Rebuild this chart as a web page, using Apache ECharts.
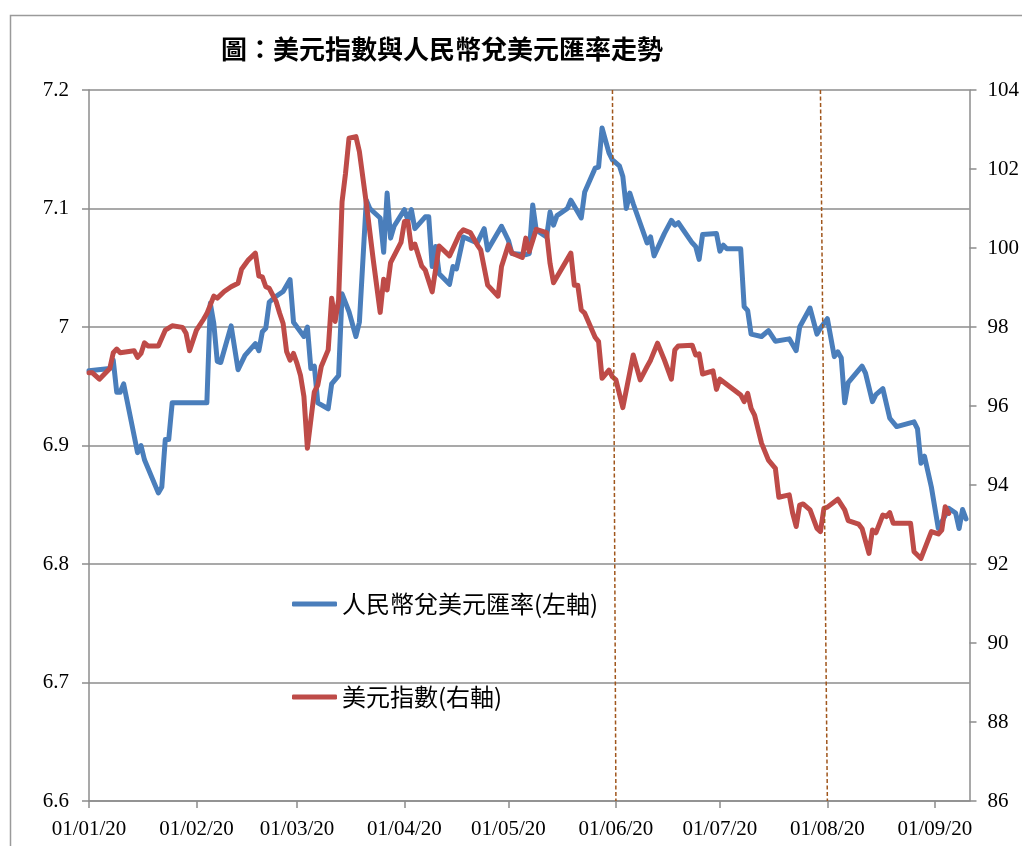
<!DOCTYPE html>
<html>
<head>
<meta charset="utf-8">
<script src="https://cdn.jsdelivr.net/npm/echarts@6/dist/echarts.min.js"></script>
<style>html,body{margin:0;padding:0;background:#fff;}#c{width:1022px;height:846px;}</style>
</head>
<body>
<div id="c"></div>
<script>
// ---- data ----
const titleText = '圖：美元指數與人民幣兌美元匯率走勢';
const cnyName = '人民幣兌美元匯率(左軸)';
const dxyName = '美元指數(右軸)';

const tickDates = ['2020-01-01','2020-02-01','2020-03-01','2020-04-01','2020-05-01','2020-06-01','2020-07-01','2020-08-01','2020-09-01'];
const tickLabels = ['01/01/20','01/02/20','01/03/20','01/04/20','01/05/20','01/06/20','01/07/20','01/08/20','01/09/20'];

const cnyDates = ['2020-01-01','2020-01-07','2020-01-08','2020-01-09','2020-01-10','2020-01-11','2020-01-15','2020-01-16','2020-01-17','2020-01-21',
'2020-01-22','2020-01-23','2020-01-24','2020-01-25','2020-02-04','2020-02-05','2020-02-06','2020-02-07','2020-02-08','2020-02-11',
'2020-02-13','2020-02-15','2020-02-18','2020-02-19','2020-02-20','2020-02-21','2020-02-22','2020-02-24','2020-02-26','2020-02-28',
'2020-02-29','2020-03-03','2020-03-04','2020-03-05','2020-03-06','2020-03-07','2020-03-10','2020-03-11','2020-03-13','2020-03-14',
'2020-03-16','2020-03-18','2020-03-19','2020-03-21','2020-03-22','2020-03-25','2020-03-26','2020-03-27','2020-03-28','2020-03-29',
'2020-04-01','2020-04-02','2020-04-03','2020-04-04','2020-04-07','2020-04-08','2020-04-09','2020-04-10','2020-04-11','2020-04-14',
'2020-04-15','2020-04-16','2020-04-18','2020-04-22','2020-04-24','2020-04-25','2020-04-29','2020-05-01','2020-05-02','2020-05-06',
'2020-05-07','2020-05-08','2020-05-09','2020-05-11','2020-05-12','2020-05-13','2020-05-14','2020-05-15','2020-05-18','2020-05-19',
'2020-05-22','2020-05-23','2020-05-26','2020-05-27','2020-05-28','2020-05-30','2020-05-31','2020-06-02','2020-06-03','2020-06-04',
'2020-06-05','2020-06-06','2020-06-10','2020-06-11','2020-06-12','2020-06-15','2020-06-17','2020-06-18','2020-06-19','2020-06-23',
'2020-06-24','2020-06-25','2020-06-26','2020-06-30','2020-07-01','2020-07-02','2020-07-03','2020-07-07','2020-07-08','2020-07-09',
'2020-07-10','2020-07-13','2020-07-15','2020-07-17','2020-07-21','2020-07-23','2020-07-24','2020-07-27','2020-07-29','2020-07-30',
'2020-08-01','2020-08-03','2020-08-04','2020-08-05','2020-08-06','2020-08-07','2020-08-11','2020-08-12','2020-08-14','2020-08-15',
'2020-08-17','2020-08-19','2020-08-21','2020-08-26','2020-08-27','2020-08-28','2020-08-29','2020-08-31','2020-09-02','2020-09-04',
'2020-09-05','2020-09-07','2020-09-08','2020-09-09','2020-09-10'];
const cnyValues = [6.963,6.965,6.972,6.945,6.945,6.952,6.894,6.900,6.888,6.860,
6.865,6.905,6.905,6.936,6.936,7.020,7.003,6.971,6.970,7.001,
6.964,6.976,6.986,6.980,6.996,6.999,7.021,7.026,7.030,7.040,
7.004,6.992,7.000,6.965,6.967,6.936,6.931,6.952,6.959,7.028,
7.013,6.992,7.004,7.107,7.100,7.092,7.063,7.113,7.075,7.085,
7.099,7.090,7.099,7.083,7.093,7.093,7.051,7.068,7.045,7.036,
7.051,7.049,7.076,7.071,7.083,7.065,7.085,7.073,7.062,7.061,
7.062,7.103,7.082,7.078,7.076,7.097,7.086,7.094,7.100,7.107,
7.092,7.114,7.134,7.135,7.168,7.147,7.141,7.136,7.127,7.100,
7.113,7.104,7.071,7.076,7.060,7.079,7.090,7.086,7.088,7.071,
7.068,7.057,7.078,7.079,7.064,7.069,7.066,7.066,7.017,7.014,
6.994,6.992,6.997,6.988,6.990,6.980,7.000,7.016,6.994,6.999,
7.007,6.975,6.979,6.974,6.936,6.953,6.967,6.961,6.937,6.943,
6.948,6.923,6.916,6.920,6.914,6.885,6.891,6.865,6.830,6.841,
6.847,6.843,6.830,6.846,6.838];

const dxyDates = ['2020-01-01','2020-01-02','2020-01-04','2020-01-07','2020-01-08','2020-01-09','2020-01-10','2020-01-14','2020-01-15','2020-01-16',
'2020-01-17','2020-01-18','2020-01-21','2020-01-23','2020-01-25','2020-01-28','2020-01-29','2020-01-30','2020-02-01','2020-02-03',
'2020-02-04','2020-02-06','2020-02-07','2020-02-09','2020-02-11','2020-02-13','2020-02-14','2020-02-16','2020-02-18','2020-02-19',
'2020-02-20','2020-02-21','2020-02-22','2020-02-24','2020-02-25','2020-02-26','2020-02-27','2020-02-28','2020-02-29','2020-03-01',
'2020-03-02','2020-03-03','2020-03-04','2020-03-06','2020-03-07','2020-03-08','2020-03-10','2020-03-11','2020-03-12','2020-03-13',
'2020-03-14','2020-03-15','2020-03-16','2020-03-18','2020-03-19','2020-03-21','2020-03-23','2020-03-25','2020-03-26','2020-03-27',
'2020-03-28','2020-03-30','2020-03-31','2020-04-01','2020-04-02','2020-04-03','2020-04-04','2020-04-06','2020-04-07','2020-04-09',
'2020-04-11','2020-04-14','2020-04-17','2020-04-18','2020-04-20','2020-04-22','2020-04-23','2020-04-25','2020-04-28','2020-04-29',
'2020-05-01','2020-05-02','2020-05-05','2020-05-06','2020-05-07','2020-05-09','2020-05-12','2020-05-13','2020-05-14','2020-05-19',
'2020-05-20','2020-05-21','2020-05-22','2020-05-23','2020-05-26','2020-05-27','2020-05-28','2020-05-30','2020-05-31','2020-06-01',
'2020-06-03','2020-06-06','2020-06-08','2020-06-10','2020-06-11','2020-06-13','2020-06-15','2020-06-17','2020-06-18','2020-06-19',
'2020-06-23','2020-06-24','2020-06-25','2020-06-26','2020-06-29','2020-06-30','2020-07-01','2020-07-07','2020-07-08','2020-07-09',
'2020-07-10','2020-07-11','2020-07-13','2020-07-15','2020-07-17','2020-07-18','2020-07-21','2020-07-22','2020-07-23','2020-07-24',
'2020-07-25','2020-07-27','2020-07-29','2020-07-30','2020-07-31','2020-08-01','2020-08-04','2020-08-06','2020-08-07','2020-08-10',
'2020-08-11','2020-08-13','2020-08-14','2020-08-15','2020-08-17','2020-08-18','2020-08-19','2020-08-20','2020-08-25','2020-08-26',
'2020-08-28','2020-08-31','2020-09-02','2020-09-03','2020-09-04','2020-09-05'];
const dxyValues = [96.84,96.84,96.68,96.95,97.35,97.44,97.35,97.40,97.23,97.33,
97.60,97.52,97.52,97.92,98.03,97.99,97.84,97.40,97.92,98.19,
98.34,98.78,98.73,98.90,99.02,99.11,99.46,99.70,99.87,99.29,
99.27,99.02,98.98,98.64,98.35,98.09,97.38,97.16,97.33,97.08,
96.78,96.24,94.93,96.36,96.53,97.00,97.42,98.73,98.14,98.68,
101.17,101.89,102.78,102.82,102.44,101.13,99.70,98.37,99.21,98.94,
99.63,99.97,100.14,100.67,100.67,99.99,100.10,99.54,99.44,98.89,
100.05,99.80,100.37,100.46,100.39,100.08,99.95,99.06,98.78,99.53,
100.08,99.87,99.76,100.25,99.91,100.47,100.39,99.61,99.12,99.87,
99.06,99.06,98.43,98.35,97.74,97.63,96.70,96.91,96.74,96.66,
95.96,97.29,96.66,97.00,97.16,97.59,97.16,96.68,97.42,97.52,
97.54,97.29,97.32,96.81,96.89,96.42,96.68,96.28,96.11,96.32,
95.94,95.77,95.06,94.63,94.42,93.69,93.75,93.28,92.95,93.49,
93.52,93.37,92.90,92.82,93.41,93.44,93.64,93.37,93.10,93.01,
92.90,92.27,92.86,92.79,93.24,93.20,93.30,93.03,93.03,92.31,
92.14,92.82,92.76,92.86,93.45,93.28];

// dashed marker lines: [top date, bottom date]
const markerLines = [['2020-05-31','2020-06-01'], ['2020-07-30','2020-08-01']];
const axisEndDate = '2020-09-11';

// ---- build ----
const base = Date.UTC(2020,0,1);
function dayOf(s){ const p = s.split('-').map(Number); return (Date.UTC(p[0],p[1]-1,p[2]) - base)/864e5; }
const tickDays = tickDates.map(dayOf);
const cnyData = cnyDates.map((d,i)=>[dayOf(d), cnyValues[i]]);
const dxyData = dxyDates.map((d,i)=>[dayOf(d), dxyValues[i]]);

const numFont = 'Liberation Serif';
const cjkFont = 'Noto Sans CJK TC';
const gridColor = '#8c8c8c';

const chart = echarts.init(document.getElementById('c'), null, {renderer:'canvas'});
chart.setOption({
  animation: false,
  backgroundColor: '#fff',
  graphic: [{
    type: 'rect', left: 8, top: 13, shape: {width: 1200, height: 1000},
    style: {fill: 'none', stroke: '#9a9a9a', lineWidth: 1.5}, silent: true, z: -1
  }],
  title: {
    text: titleText, left: 216, top: 31,
    textStyle: {fontFamily: cjkFont, fontSize: 26, fontWeight: 'bold', color: '#000'}
  },
  legend: [
    {data: [cnyName], left: 287, top: 587, orient: 'vertical', icon: 'roundRect', itemWidth: 45, itemHeight: 5, itemGap: 0,
     textStyle: {fontFamily: cjkFont, fontSize: 24, lineHeight: 24, color: '#000'}},
    {data: [dxyName], left: 287, top: 680, orient: 'vertical', icon: 'roundRect', itemWidth: 45, itemHeight: 5, itemGap: 0,
     textStyle: {fontFamily: cjkFont, fontSize: 24, lineHeight: 24, color: '#000'}}
  ],
  grid: {left: 89, right: 51, top: 90, bottom: 45, containLabel: false},
  xAxis: {
    type: 'value', min: 0, max: dayOf(axisEndDate),
    axisLine: {show: true, onZero: false, lineStyle: {color: gridColor, width: 1.5}},
    axisTick: {show: true, length: 7, customValues: tickDays, lineStyle: {color: gridColor, width: 1.5}},
    axisLabel: {customValues: tickDays, margin: 18, fontFamily: numFont, fontSize: 21, color: '#000',
      formatter: v => { const i = tickDays.indexOf(v); return i >= 0 ? tickLabels[i] : ''; }},
    splitLine: {show: false}
  },
  yAxis: [
    {type: 'value', min: 6.6, max: 7.2, interval: 0.1, position: 'left',
     axisLine: {show: true, lineStyle: {color: gridColor, width: 1.5}},
     axisTick: {show: true, length: 7, lineStyle: {color: gridColor, width: 1.5}},
     axisLabel: {margin: 20, fontFamily: numFont, fontSize: 21, color: '#000',
       formatter: v => String(Math.round(v*10)/10)},
     splitLine: {show: true, lineStyle: {color: gridColor, width: 1.5}}},
    {type: 'value', min: 86, max: 104, interval: 2, position: 'right',
     axisLine: {show: true, lineStyle: {color: gridColor, width: 1.5}},
     axisTick: {show: true, length: 7, lineStyle: {color: gridColor, width: 1.5}},
     axisLabel: {margin: 18, fontFamily: numFont, fontSize: 21, color: '#000'},
     splitLine: {show: false}}
  ],
  series: [
    {name: cnyName, type: 'line', yAxisIndex: 0, data: cnyData, showSymbol: false, symbol: 'none',
     color: '#4a7ebb', lineStyle: {width: 5, color: '#4a7ebb', join: 'round', cap: 'round'},
     markLine: {silent: true, symbol: ['none','none'], label: {show: false},
       lineStyle: {type: [4,2.5], color: '#a0561c', width: 1.5},
       emphasis: {disabled: true},
       data: markerLines.map(m => [{coord: [dayOf(m[0]), 7.2]}, {coord: [dayOf(m[1]), 6.6]}])}},
    {name: dxyName, type: 'line', yAxisIndex: 1, data: dxyData, showSymbol: false, symbol: 'none',
     color: '#be4b48', lineStyle: {width: 5, color: '#be4b48', join: 'round', cap: 'round'}}
  ]
});
</script>
</body>
</html>
